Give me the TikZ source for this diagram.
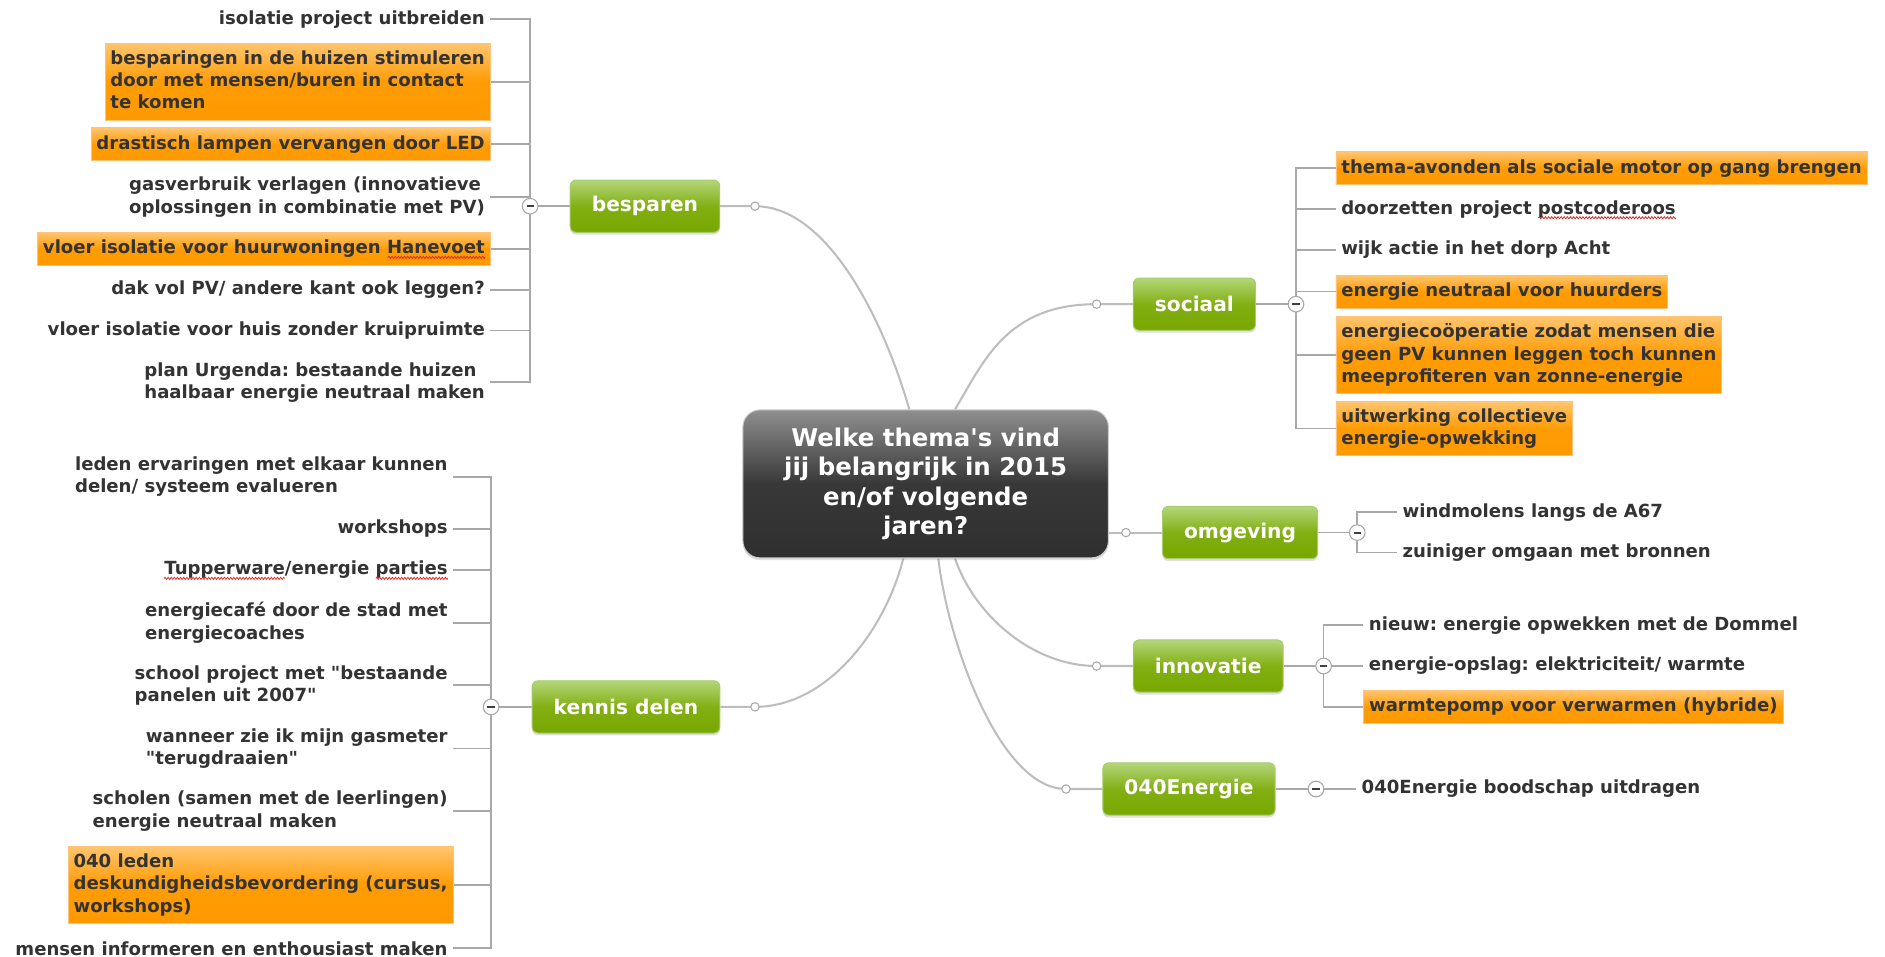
\documentclass[tikz,border=0pt]{standalone}
\usepackage{fontspec}
\defaultfontfeatures{}
\setmainfont{DejaVu Sans}
\usetikzlibrary{calc,shadows,decorations.pathmorphing}
\definecolor{leafc}{HTML}{333333}
\definecolor{orTop}{HTML}{FFC56E}
\definecolor{orMid}{HTML}{FF9C05}
\definecolor{orBot}{HTML}{FF9900}
\definecolor{orEdge}{HTML}{FFC27A}
\definecolor{grTop}{HTML}{B3D67A}
\definecolor{grMid}{HTML}{82AF12}
\definecolor{grBot}{HTML}{78A700}
\definecolor{grEdge}{HTML}{A8CC6E}
\definecolor{cTop}{HTML}{8F8F8F}
\definecolor{cMid}{HTML}{383838}
\definecolor{cBot}{HTML}{2F2F2F}
\definecolor{mainGray}{HTML}{BDBDBD}
\definecolor{brGray}{HTML}{A8A8A8}
\definecolor{spred}{HTML}{E02020}
\newcommand\ldp{\rule[-3.6pt]{0pt}{0pt}}
\newcommand\sq{\XeTeXglyph\XeTeXglyphindex "quotesingle" \relax}
\newcommand\dq{\XeTeXglyph\XeTeXglyphindex "quotedbl" \relax}
\newcommand\leaffnt{\fontsize{15.05}{18.5}\selectfont\bfseries\frenchspacing}
\newcommand\topicfnt{\fontsize{16.8}{20}\selectfont\bfseries}
\newcommand\centralfnt{\fontsize{20.3}{24.5}\selectfont\bfseries}
\newlength\wHan \newlength\wTup \newlength\wPar \newlength\wPost
\pgfdeclarelayer{bg}
\pgfsetlayers{bg,main}
\tikzset{
  leaf/.style={font=\leaffnt, text=leafc, inner xsep=4.5, inner ysep=3, align=left},
  hl/.style={leaf, draw=orEdge, line width=0.6, top color=orTop, bottom color=orBot, middle color=orMid, inner ysep=6, minimum height=27.5},
  topic/.style={font=\topicfnt, text=white, rounded corners=5, draw=grEdge, line width=0.8,
    top color=grTop, bottom color=grBot, middle color=grMid, minimum height=43.5, inner xsep=18,
    drop shadow={shadow xshift=0pt, shadow yshift=-2pt, opacity=0.25}},
  central/.style={font=\centralfnt, text=white, rounded corners=14, draw=black!20, line width=0.8,
    top color=cTop, bottom color=cBot, middle color=cMid, minimum width=304, minimum height=123,
    align=center, inner sep=0, drop shadow={shadow xshift=0pt, shadow yshift=-2pt, opacity=0.25}},
  dot/.style={circle, draw=mainGray!90!black, fill=white, line width=0.9, inner sep=0, minimum size=7},
  col/.style={circle, draw=brGray, fill=white, line width=0.9, inner sep=0, minimum size=13,
    path picture={\draw[line width=1.6, black!75] ([xshift=-3pt]path picture bounding box.center) -- ([xshift=3pt]path picture bounding box.center);}},
  mainln/.style={draw=mainGray, line width=1.7},
  brln/.style={draw=brGray, line width=1.4},
  squig/.style={draw=spred, line width=0.6, decorate, decoration={zigzag, segment length=2.6pt, amplitude=0.9pt}},
}
\begin{document}
\settowidth\wHan{\leaffnt Hanevoet}%
\settowidth\wTup{\leaffnt Tupperware}%
\settowidth\wPar{\leaffnt parties}%
\settowidth\wPost{\leaffnt postcoderoos}%
\begin{tikzpicture}[x=1pt,y=-1pt]
\useasboundingbox (0,0) rectangle (1568,796);
\begin{pgfonlayer}{bg}
\fill[white] (0,0) rectangle (1568,796);
\end{pgfonlayer}

% central
\node[central] (central) at (770,402.5) {Welke thema\sq s vind\\jij belangrijk in 2015\\en/of volgende\\jaren?};

% topics
\node[topic] (bes) at (536.5,171.5) {besparen};
\node[topic] (ken) at (520.7,588) {kennis delen};
\node[topic] (soc) at (993.5,253) {sociaal};
\node[topic] (omg) at (1031.5,443) {omgeving};
\node[topic] (inn) at (1005,554) {innovatie};
\node[topic] (e040) at (989,656.3) {040Energie};

% connection dots
\node[dot] (dbes) at (628,171.5) {};
\node[dot] (dken) at (628,588) {};
\node[dot] (dsoc) at (912.2,253) {};
\node[dot] (domg) at (936.6,443) {};
\node[dot] (dinn) at (912.2,554) {};
\node[dot] (d040) at (886.7,656.3) {};

% collapse circles
\node[col] (cbes) at (441,171.5) {};
\node[col] (cken) at (408.5,588) {};
\node[col] (csoc) at (1078,253) {};
\node[col] (comg) at (1129,443) {};
\node[col] (cinn) at (1101,554) {};
\node[col] (c040) at (1094.7,656.3) {};

% besparen leaves
\node[leaf,anchor=east] (b1) at (408,16) {isolatie project uitbreiden};
\node[hl,anchor=east] (b2) at (408,68) {besparingen in de huizen stimuleren\\door met mensen/buren in contact\\te komen\ldp};
\node[hl,anchor=east] (b3) at (408,120) {drastisch lampen vervangen door LED};
\node[leaf,anchor=east] (b4) at (408,164) {gasverbruik verlagen (innovatieve\\oplossingen in combinatie met PV)};
\node[hl,anchor=east] (b5) at (408,207) {vloer isolatie voor huurwoningen Hanevoet};
\node[leaf,anchor=east] (b6) at (408,241) {dak vol PV/ andere kant ook leggen?};
\node[leaf,anchor=east] (b7) at (408,275) {vloer isolatie voor huis zonder kruipruimte};
\node[leaf,anchor=east] (b8) at (408,318) {plan Urgenda: bestaande huizen\\haalbaar energie neutraal maken};

% kennis delen leaves
\node[leaf,anchor=east] (k1) at (377,396.5) {leden ervaringen met elkaar kunnen\\delen/ systeem evalueren};
\node[leaf,anchor=east] (k2) at (377,440) {workshops};
\node[leaf,anchor=east] (k3) at (377,474) {Tupperware/energie parties};
\node[leaf,anchor=east] (k4) at (377,518) {energiecafé door de stad met\\energiecoaches};
\node[leaf,anchor=east] (k5) at (377,570) {school project met \dq bestaande\\panelen uit 2007\dq};
\node[leaf,anchor=east] (k6) at (377,622.5) {wanneer zie ik mijn gasmeter\\\dq terugdraaien\dq};
\node[leaf,anchor=east] (k7) at (377,674.6) {scholen (samen met de leerlingen)\\energie neutraal maken};
\node[hl,anchor=east] (k8) at (377,736) {040 leden\\deskundigheidsbevordering (cursus,\\workshops)};
\node[leaf,anchor=east] (k9) at (377,788.8) {mensen informeren en enthousiast maken};

% sociaal leaves
\node[hl,anchor=west] (s1) at (1111,140) {thema-avonden als sociale motor op gang brengen};
\node[leaf,anchor=west] (s2) at (1111,174) {doorzetten project postcoderoos};
\node[leaf,anchor=west] (s3) at (1111,208) {wijk actie in het dorp Acht};
\node[hl,anchor=west] (s4) at (1111,242.6) {energie neutraal voor huurders};
\node[hl,anchor=west] (s5) at (1111,295.3) {energiecoöperatie zodat mensen die\\geen PV kunnen leggen toch kunnen\\meeprofiteren van zonne-energie};
\node[hl,anchor=west] (s6) at (1111,356.5) {uitwerking collectieve\\energie-opwekking};

% omgeving leaves
\node[leaf,anchor=west] (o1) at (1162,426) {windmolens langs de A67};
\node[leaf,anchor=west] (o2) at (1162,459.7) {zuiniger omgaan met bronnen};

% innovatie leaves
\node[leaf,anchor=west] (i1) at (1134,520) {nieuw: energie opwekken met de Dommel};
\node[leaf,anchor=west] (i2) at (1134,554) {energie-opslag: elektriciteit/ warmte};
\node[hl,anchor=west] (i3) at (1134,588) {warmtepomp voor verwarmen (hybride)};

% 040Energie leaf
\node[leaf,anchor=west] (z1) at (1128,656.3) {040Energie boodschap uitdragen};

% spelling marks
\draw[squig] ($(b5.base east)+(-4.5pt,-3pt)$) -- ++(-\wHan,0pt);
\draw[squig] ($(k3.base west)+(4.5pt,-3pt)$) -- ++(\wTup,0pt);
\draw[squig] ($(k3.base east)+(-4.5pt,-3pt)$) -- ++(-\wPar,0pt);
\draw[squig] ($(s2.base east)+(-4.5pt,-3pt)$) -- ++(-\wPost,0pt);

\begin{pgfonlayer}{bg}
% main branches
\draw[mainln] (bes.east) -- (dbes.center) .. controls +(62,0) and +(-20,-70) .. ($(central.north)+(-13.6,0)$);
\draw[mainln] (soc.west) -- (dsoc.center) .. controls +(-75,0) and +(24,-40) .. ($(central.north)+(24.4,0)$);
\draw[mainln] (omg.west) -- (domg.center) -- (central.east |- domg.center);
\draw[mainln] (inn.west) -- (dinn.center) .. controls +(-55,0) and +(15,45) .. ($(central.south)+(24.4,0)$);
\draw[mainln] (e040.west) -- (d040.center) .. controls +(-55,0) and +(8,70) .. ($(central.south)+(10.5,0)$);
\draw[mainln] (ken.east) -- (dken.center) .. controls +(60,0) and +(-15,60) .. ($(central.south)+(-18.6,0)$);
% brackets
\draw[brln] (bes.west) -- (cbes.center);
\foreach \n in {b1,b2,b3,b4,b5,b6,b7,b8} \draw[brln] (cbes.center) |- (\n.east);
\draw[brln] (ken.west) -- (cken.center);
\foreach \n in {k1,k2,k3,k4,k5,k6,k7,k8,k9} \draw[brln] (cken.center) |- (\n.east);
\draw[brln] (soc.east) -- (csoc.center);
\foreach \n in {s1,s2,s3,s4,s5,s6} \draw[brln] (csoc.center) |- (\n.west);
\draw[brln] (omg.east) -- (comg.center);
\foreach \n in {o1,o2} \draw[brln] (comg.center) |- (\n.west);
\draw[brln] (inn.east) -- (cinn.center);
\foreach \n in {i1,i2,i3} \draw[brln] (cinn.center) |- (\n.west);
\draw[brln] (e040.east) -- (c040.center) -- (z1.west);
\end{pgfonlayer}
\end{tikzpicture}
\end{document}
